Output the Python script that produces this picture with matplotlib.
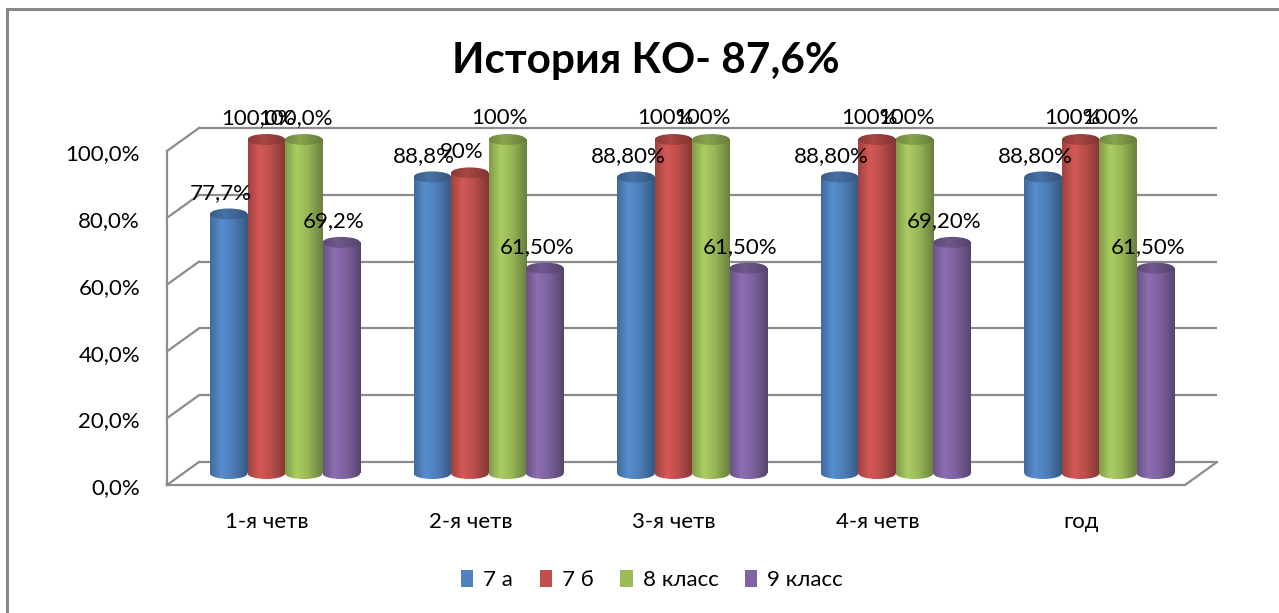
import numpy as np
import matplotlib
matplotlib.use("Agg")
import matplotlib.pyplot as plt
from matplotlib.patches import Ellipse, Patch
from matplotlib.colors import LinearSegmentedColormap, to_rgb
from matplotlib.lines import Line2D

# ---------------- data ----------------
categories = ["1-я четв", "2-я четв", "3-я четв", "4-я четв", "год"]
series_names = ["7 а", "7 б", "8 класс", "9 класс"]
s_7a = [77.7, 88.8, 88.8, 88.8, 88.8]
s_7b = [100.0, 90.0, 100.0, 100.0, 100.0]
s_8 = [100.0, 100.0, 100.0, 100.0, 100.0]
s_9 = [69.2, 61.5, 61.5, 69.2, 61.5]
labels_7a = ["77,7%", "88,8%", "88,80%", "88,80%", "88,80%"]
labels_7b = ["100,0%", "90%", "100%", "100%", "100%"]
labels_8 = ["100,0%", "100%", "100%", "100%", "100%"]
labels_9 = ["69,2%", "61,50%", "61,50%", "69,20%", "61,50%"]
yticks = [0, 20, 40, 60, 80, 100]
ytick_labels = ["0,0%", "20,0%", "40,0%", "60,0%", "80,0%", "100,0%"]
title = "История КО- 87,6%"

series = [s_7a, s_7b, s_8, s_9]
series_labels = [labels_7a, labels_7b, labels_8, labels_9]
colors = ["#4F81BD", "#C0504D", "#9BBB59", "#8064A2"]

# ---------------- layout ----------------
W, H = 1279, 613
PX = 203.6          # pixels per category
PY = 3.34           # pixels per percent
X0PIX = 285.0       # pixel x of category 0
Y0PIX = 473.5       # pixel y of value 0 (mid depth)
DX = 16.0 / PX      # half depth offset
DY = 11.5 / PY
BW = 37.5 / PX      # bar width
EH = 11.0 / PY      # ellipse height

fig = plt.figure(figsize=(W / 100, H / 100), dpi=100)
ax = fig.add_axes([0, 0, 1, 1])
ax.set_axis_off()
xlim = (-X0PIX / PX, (W - X0PIX) / PX)
ylim = ((Y0PIX - H) / PY, Y0PIX / PY)

FONT = "Lato"
FS = 16
grid_c = "#8c8c8c"
glw = 1.6

n = len(categories)
xb0, xb1 = (199 - X0PIX) / PX, (1217 - X0PIX) / PX
xf0, xf1 = xb0 - 2 * DX, xb1 - 2 * DX

# back wall gridlines + side wall diagonals
for t in yticks:
    ax.plot([xb0, xb1], [t + DY, t + DY], color=grid_c, lw=glw, solid_capstyle="butt", zorder=1)
    ax.plot([xf0, xb0], [t - DY, t + DY], color=grid_c, lw=glw, zorder=1)
# floor
ax.plot([xf0, xf1, xb1], [-DY, -DY, DY], color=grid_c, lw=glw, zorder=1)
# front vertical axis line
ax.plot([xf0, xf0], [-DY, yticks[-1] - DY], color=grid_c, lw=glw, zorder=1)

# tick labels
for t, lab in zip(yticks, ytick_labels):
    ax.text(xf0 - 27 / PX, t - DY - 1.0, lab, ha="right", va="center",
            fontsize=FS, family=FONT, color="#000000")

for i, c in enumerate(categories):
    ax.text(i - 18 / PX, (Y0PIX - 522) / PY, c, ha="center", va="center",
            fontsize=FS, family=FONT, color="#000000")


def shade(col, f):
    r = np.array(to_rgb(col)) * f
    return tuple(np.clip(r, 0, 1))


grad = np.linspace(0, 1, 128).reshape(1, -1)
for j, (vals, labs, col) in enumerate(zip(series, series_labels, colors)):
    body_cmap = LinearSegmentedColormap.from_list(
        "b%d" % j, [(0, shade(col, 0.82)), (0.3, shade(col, 1.1)), (0.6, shade(col, 0.98)), (1, shade(col, 0.68))])
    cap_cmap = LinearSegmentedColormap.from_list(
        "c%d" % j, [(0, shade(col, 0.72)), (0.4, shade(col, 0.88)), (1, shade(col, 0.66))])
    xs = np.arange(n) + (j - 1.5) * BW
    bars = ax.bar(xs, vals, width=BW, color=col, linewidth=0, zorder=2)
    for xc, v, lab, rect in zip(xs, vals, labs, bars.patches):
        rect.set_alpha(0)
        x0, x1 = xc - BW / 2, xc + BW / 2
        im = ax.imshow(grad, cmap=body_cmap, extent=(x0, x1, -EH, v), aspect="auto",
                       interpolation="bilinear", zorder=3)
        im.set_clip_path(rect)
        bot = Ellipse((xc, 0), BW, EH, facecolor="none", edgecolor="none")
        ax.add_patch(bot)
        im2 = ax.imshow(grad, cmap=body_cmap, extent=(x0, x1, -EH, v), aspect="auto",
                        interpolation="bilinear", zorder=3)
        im2.set_clip_path(bot)
        cap = Ellipse((xc, v), BW, EH, facecolor="none", edgecolor="none")
        ax.add_patch(cap)
        im3 = ax.imshow(grad, cmap=cap_cmap, extent=(x0, x1, v - EH, v + EH), aspect="auto",
                        interpolation="bilinear", zorder=4)
        im3.set_clip_path(cap)
        ax.text(xc - 8 / PX, v + 21 / PY, lab, ha="center", va="center",
                fontsize=FS, family=FONT, color="#000000", zorder=6)

ax.set_xlim(*xlim)
ax.set_ylim(*ylim)
ax.set_aspect("auto")

# title
fig.text(646 / W, 1 - 61 / H, title, ha="center", va="center", fontsize=30.5,
         fontweight="bold", family=FONT, color="#000000")

# legend
handles = [Patch(facecolor=c, edgecolor="none") for c in colors]
leg = fig.legend(handles, series_names, loc="center", bbox_to_anchor=(652 / W, 1 - 580 / H),
                 ncol=4, frameon=False, handlelength=0.55, handleheight=0.85,
                 handletextpad=0.45, columnspacing=1.2,
                 prop={"family": FONT, "size": FS})

# outer chart frame (left and top edges)
fig.add_artist(Line2D([7 / W, 7 / W], [0, 1 - 9 / H], color="#888888", lw=2.2))
fig.add_artist(Line2D([7 / W, 1], [1 - 9 / H, 1 - 9 / H], color="#888888", lw=2.2))

fig.savefig("out.png", dpi=100)
